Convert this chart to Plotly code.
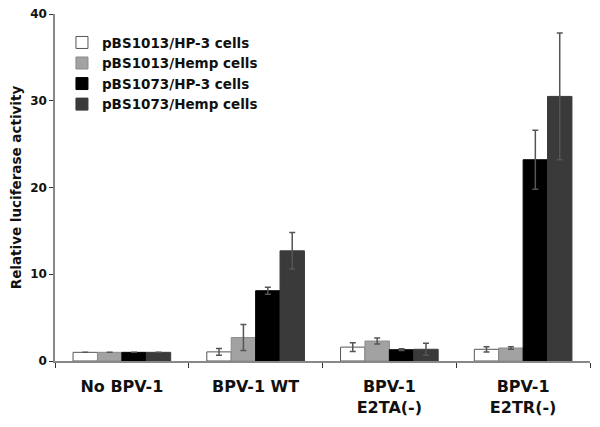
import plotly.graph_objects as go

categories = ["No BPV-1", "BPV-1 WT", "BPV-1<br>E2TA(-)", "BPV-1<br>E2TR(-)"]
series_names = ["pBS1013/HP-3 cells", "pBS1013/Hemp cells", "pBS1073/HP-3 cells", "pBS1073/Hemp cells"]
hp3_1013 = [1.0, 1.05, 1.6, 1.35]
hemp_1013 = [1.0, 2.7, 2.3, 1.5]
hp3_1073 = [1.0, 8.1, 1.3, 23.2]
hemp_1073 = [1.0, 12.7, 1.35, 30.5]
err_hp3_1013 = [0, 0.4, 0.5, 0.3]
err_hemp_1013 = [0, 1.5, 0.35, 0.15]
err_hp3_1073 = [0, 0.4, 0.1, 3.4]
err_hemp_1073 = [0, 2.1, 0.7, 7.3]

values = [hp3_1013, hemp_1013, hp3_1073, hemp_1073]
errors = [err_hp3_1013, err_hemp_1013, err_hp3_1073, err_hemp_1073]
colors = ["#ffffff", "#a2a2a2", "#000000", "#3a3a3a"]
line_colors = ["#555555", "#8a8a8a", "#000000", "#3a3a3a"]

fig = go.Figure()
for name, v, e, c, lc in zip(series_names, values, errors, colors, line_colors):
    fig.add_trace(go.Bar(
        x=categories, y=v, name=name,
        marker=dict(color=c, line=dict(color=lc, width=1)),
        error_y=dict(type="data", array=e, visible=True, color="#555555", thickness=1.5, width=3),
    ))

fig.update_layout(
    width=592, height=419,
    margin=dict(l=47, r=10, t=6, b=66),
    paper_bgcolor="white", plot_bgcolor="white",
    barmode="group", bargap=0.27, bargroupgap=0,
    font=dict(family="DejaVu Sans", color="#111111", weight="bold"),
    showlegend=True,
    legend=dict(x=0.013, y=0.962, xanchor="left", yanchor="top",
                font=dict(size=13.5, family="DejaVu Sans", weight="bold"),
                bgcolor="rgba(0,0,0,0)", tracegroupgap=0, itemwidth=30),
    xaxis=dict(showline=True, linecolor="#888888", linewidth=1.5, automargin=False,
               ticks="outside", tickson="boundaries", ticklen=5, tickcolor="#333333",
               ticklabelstandoff=10,
               tickfont=dict(size=16, family="DejaVu Sans", weight="bold")),
    yaxis=dict(range=[0, 40], tickvals=[0, 10, 20, 30, 40], showline=True, automargin=False,
               linecolor="#888888", linewidth=1.5, ticks="outside", ticklen=4,
               tickcolor="#333333", showgrid=False, zeroline=False,
               ticklabeloverflow="allow",
               tickfont=dict(size=12, family="DejaVu Sans", weight="bold"),
               title=dict(text="Relative luciferase activity", standoff=6,
                          font=dict(size=13.5, family="DejaVu Sans", weight="bold"))),
)

fig.write_html("out.html")
